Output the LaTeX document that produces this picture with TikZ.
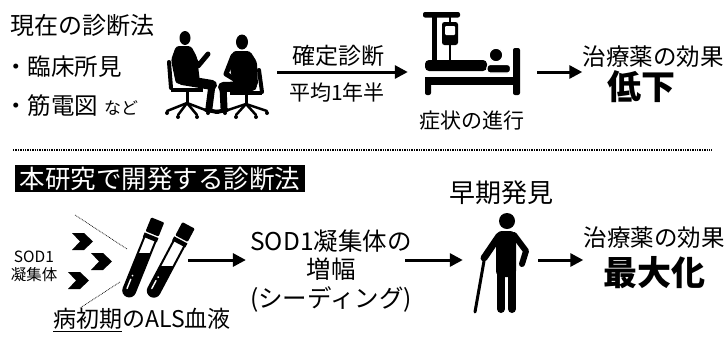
\documentclass[tikz,border=0pt]{standalone}
\usepackage{fontspec}
\setmainfont{Noto Sans CJK JP}
\usetikzlibrary{arrows.meta}
\newcommand\jpfs[2]{\fontsize{#1}{#2}\selectfont}
\tikzset{
  txt/.style={inner sep=0pt, text=black},
  arr/.style={line width=3pt, -{Triangle[length=13pt,width=13pt]}},
  icon/.style={inner sep=0pt, draw=none},
  sepline/.style={line width=1.2pt, dash pattern=on 1.4pt off 1pt},
  dotline/.style={line width=0.7pt, dash pattern=on 0.8pt off 0.9pt},
  limb/.style={line cap=round, line join=round},
  tubeline/.style={line width=2pt},
}
\begin{document}
\begin{tikzpicture}[x=1pt,y=-1pt]
\useasboundingbox (0,0) rectangle (725,338);

% ---------------- current diagnosis ----------------
\node[txt, font=\jpfs{24}{28}, anchor=west] (cur) at (10,25) {現在の診断法};
\node[txt, font=\jpfs{23.5}{27}, anchor=west] (b1) at (4,67) {・臨床所見};
\node[txt, font=\jpfs{23.5}{27}, anchor=west] (b2) at (4,106) {・筋電図\hspace{6pt}{\jpfs{17}{20}など}};

% consultation silhouette
\node[icon, minimum width=102pt, minimum height=92pt] (talk) at (214,72) {};
% man on the left
\fill (185,38) ellipse (5.5 and 7);
\fill[rounded corners=3pt] (176,46) -- (191,46) -- (197,57) -- (200,82) -- (176,84) -- (171,60) -- cycle;
\draw[limb, line width=5pt] (190,51) -- (198,66) -- (208,54);
\draw[limb, line width=10pt] (182,80) -- (212,85);
\draw[limb, line width=7pt] (212,85) -- (209,108);
\draw[limb, line width=4pt] (206,110) -- (218,112);
\draw[limb, line width=4pt] (169,62) -- (171,88);
\draw[line width=3.5pt] (171,90) -- (203,90);
\draw[line width=3pt] (187,90) -- (187,103);
\draw[limb, line width=2.5pt] (167,111) -- (187,103) -- (208,111);
\draw[limb, line width=2.5pt] (178,115) -- (187,103) -- (197,115);
\foreach \p in {(167,113),(208,113),(178,117),(197,117)} \fill \p circle (2);
% woman on the right
\fill (242,42) ellipse (6 and 7.5);
\fill[rounded corners=3pt] (233,51) -- (250,51) -- (257,62) -- (258,86) -- (234,86) -- (229,64) -- cycle;
\draw[limb, line width=5pt] (233,56) -- (226,74) -- (236,80);
\draw[limb, line width=10pt] (252,86) -- (223,87);
\draw[limb, line width=7pt] (223,87) -- (224,108);
\draw[limb, line width=4pt] (227,110) -- (216,112);
\draw[limb, line width=4pt] (259,70) -- (262,92);
\draw[line width=3.5pt] (230,93) -- (262,93);
\draw[line width=3pt] (246,93) -- (246,104);
\draw[limb, line width=2.5pt] (225,111) -- (246,104) -- (267,111);
\draw[limb, line width=2.5pt] (236,115) -- (246,104) -- (256,115);
\foreach \p in {(225,113),(267,113),(236,117),(256,117)} \fill \p circle (2);

\node[txt, font=\jpfs{23}{27}] (diag) at (338,56) {確定診断};
\node[txt, font=\jpfs{21}{25}] (dur) at (337,93) {平均1年半};

% hospital bed icon
\node[icon, minimum width=97pt, minimum height=83pt] (bed) at (471.5,53.5) {};
\fill[rounded corners=2pt] (423,12) rectangle (460,17.5);
\fill (432,12) rectangle (437,62);
\draw[line width=1.5pt] (450,22) -- (450,17);
\fill[rounded corners=2.5pt] (442,22) rectangle (458,45);
\fill[white, rounded corners=1pt] (445,26) rectangle (455,35);
\draw[line width=2.5pt] (450,45) -- (450,60);
\fill[rounded corners=4pt] (425,60) rectangle (487,71);
\filldraw[draw=white, line width=1.2pt, rounded corners=3pt] (487,64.5) rectangle (510.5,73);
\filldraw[draw=white, line width=1.2pt] (496,55) circle (6.8);
\fill[rounded corners=2pt] (513,48) rectangle (520,95);
\fill (425,77) rectangle (520,85);
\fill[rounded corners=2pt] (425,77) rectangle (431,95);

\node[txt, font=\jpfs{21}{25}] (prog) at (472,121) {症状の進行};
\node[txt, font=\jpfs{23.5}{28}] (eff1) at (653,57) {治療薬の効果};
\node[txt, font=\bfseries\jpfs{34}{38}] (low) at (641,87) {低下};

\draw[arr, shorten <=12pt, shorten >=15pt] (talk.east) -- (talk.east -| bed.west);
\draw[arr, shorten <=17pt] (bed.east |- talk.east) -- (talk.east -| eff1.west);

% ---------------- separator ----------------
\coordinate (sepL) at (13,150);
\coordinate (sepR) at (712,150);
\draw[sepline] (sepL) -- (sepR);

% ---------------- proposed diagnosis ----------------
\node[fill=black, text=white, font=\jpfs{25.5}{28}, inner sep=0pt,
      minimum width=290pt, minimum height=27pt, anchor=north west] (newm) at (15,165) {本研究で開発する診断法};

\node[txt, font=\jpfs{15.5}{18}, align=center] (sod) at (34,266) {SOD1\\凝集体};

% chevrons pointing at the tubes
\foreach \x/\y in {72/233, 91/253, 68/272}
  \fill (\x,\y) -- ++(12,0) -- ++(9,8.5) -- ++(-9,8.5) -- ++(-12,0) -- ++(8,-8.5) -- cycle;
\draw[dotline] (75,215) -- (127,249);
\draw[dotline] (120,282) -- (80,308);

% blood sample tubes
\node[icon, minimum width=62pt, minimum height=85pt] (tubes) at (149,260) {};
\begin{scope}
  \path[clip, shift={(127,296)}, rotate=-22, rounded corners=6pt]
    (-6,-62) -- (-6,0) -- (6,0) -- (6,-62) -- cycle;
  \fill[white] (90,200) rectangle (200,300);
  \fill (90,253) rectangle (200,300);
  \draw[white, line width=1.4pt, line cap=round, shift={(127,296)}, rotate=-22] (-2.8,-7) -- (-2.8,-17);
  \fill[white, shift={(127,296)}, rotate=-22] (-2.5,-21) circle (1);
\end{scope}
\draw[tubeline, shift={(127,296)}, rotate=-22, rounded corners=6pt]
  (-6,-62) -- (-6,0) -- (6,0) -- (6,-62);
\fill[shift={(127,296)}, rotate=-22] (-7.5,-61) rectangle (7.5,-65.5);
\fill[shift={(127,296)}, rotate=-22, rounded corners=1pt] (-7,-67) rectangle (7,-82);

\begin{scope}
  \path[clip, shift={(151,296)}, rotate=-28, rounded corners=6pt]
    (-6,-60) -- (-6,0) -- (6,0) -- (6,-60) -- cycle;
  \fill[white] (110,200) rectangle (220,300);
  \fill (110,266) rectangle (220,300);
  \draw[white, line width=1.4pt, line cap=round, shift={(151,296)}, rotate=-28] (-2.8,-7) -- (-2.8,-16);
  \fill[white, shift={(151,296)}, rotate=-28] (-2.5,-20) circle (1);
\end{scope}
\draw[tubeline, shift={(151,296)}, rotate=-28, rounded corners=6pt]
  (-6,-60) -- (-6,0) -- (6,0) -- (6,-60);
\fill[shift={(151,296)}, rotate=-28] (-7.5,-59) rectangle (7.5,-63.5);
\fill[shift={(151,296)}, rotate=-28, rounded corners=1pt] (-7,-65) rectangle (7,-80);

\node[txt, font=\jpfs{23}{28}] (blood) at (142,320) {\underline{病初期}のALS血液};

\node[txt, font=\jpfs{24.5}{28.5}, align=center] (amp) at (331,271) {SOD1凝集体の\\増幅\\(シーディング)};

\node[txt, font=\jpfs{26}{30}] (early) at (501,193) {早期発見};

% elderly person with a cane
\node[icon, minimum width=54pt, minimum height=104pt] (elder) at (501,260) {};
\fill (507,221) circle (8);
\fill[rounded corners=6pt] (496,231) -- (516,231) -- (516,277) -- (496,277) -- cycle;
\draw[limb, line width=8pt] (501,272) -- (501,309);
\draw[limb, line width=8pt] (512,272) -- (512,309);
\draw[limb, line width=7pt] (499,236) -- (484,258);
\draw[limb, line width=6pt] (514,235) -- (526,251) -- (522,264);
\draw[limb, line width=3pt] (484,261) -- (475,312);

\node[txt, font=\jpfs{23.5}{28}] (eff2) at (654,238) {治療薬の効果};
\node[txt, font=\bfseries\jpfs{34}{38}] (max) at (654,273) {最大化};

\draw[arr, shorten <=8pt, shorten >=4pt] (tubes.east) -- (tubes.east -| amp.west);
\draw[arr, shorten <=-7pt, shorten >=11pt] (tubes.east -| amp.east) -- (tubes.east -| elder.west);
\draw[arr, shorten <=10pt] (elder.east) -- (elder.east -| eff2.west);
\end{tikzpicture}
\end{document}
